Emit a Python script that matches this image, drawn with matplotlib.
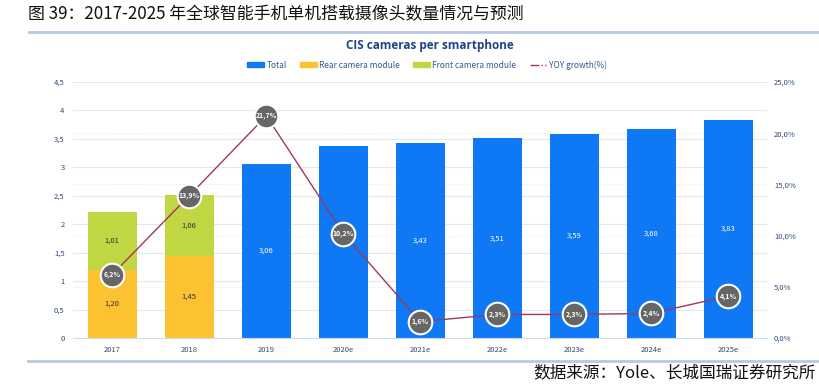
import numpy as np
import matplotlib
matplotlib.use('Agg')
import matplotlib.pyplot as plt
from matplotlib.patches import Patch
from matplotlib.lines import Line2D

plt.rcParams['font.family'] = ['Noto Sans CJK SC', 'DejaVu Sans']

years = ['2017', '2018', '2019', '2020e', '2021e', '2022e', '2023e', '2024e', '2025e']
rear = [1.20, 1.45]
front = [1.01, 1.06]
total = [3.06, 3.38, 3.43, 3.51, 3.59, 3.68, 3.83]
yoy = [6.2, 13.9, 21.7, 10.2, 1.6, 2.3, 2.3, 2.4, 4.1]
left_ticks = [0, 0.5, 1, 1.5, 2, 2.5, 3, 3.5, 4, 4.5]
right_ticks = [0, 5, 10, 15, 20, 25]

c_blue = '#0f78f5'
c_rear = '#fcc232'
c_front = '#c0d643'
c_line = '#a0375c'
c_mark = '#666666'
c_tick = '#2f4a78'


def comma(v, fmt):
    return (fmt % v).replace('.', ',')


fig = plt.figure(figsize=(8.2, 3.84), dpi=100)
W, H = 820.0, 384.0

# header / footer
fig.text(28 / W, 1 - 14 / H, '图 39：2017-2025 年全球智能手机单机搭载摄像头数量情况与预测',
         fontsize=12.2, va='center', ha='left', color='#111111')
fig.add_artist(Line2D([29 / W, 1], [1 - 32 / H] * 2, color='#b5c9e2', lw=2))
fig.add_artist(Line2D([28 / W, 1], [1 - 361 / H] * 2, color='#b5c9e2', lw=2))
fig.text(816 / W, 1 - 373 / H, '数据来源：Yole、长城国瑞证券研究所', fontsize=12,
         style='italic', va='center', ha='right', color='#111111')

fig.text(430 / W, 1 - 45 / H, 'CIS cameras per smartphone', fontsize=8.5,
         fontweight='bold', color='#1f4585', va='center', ha='center',
         family=['Open Sans', 'DejaVu Sans'])

ax = fig.add_axes([73 / W, 46 / H, 694 / W, 256 / H])
x = np.arange(len(years))
bw = 0.64

# right-axis grid lines (5% steps) drawn behind the bars
for v in right_ticks[1:-1]:
    ax.axhline(v * 4.5 / 25, color='#e4e8ee', lw=0.7, ls=':', zorder=0)

ax.bar(x[:2], rear, width=bw, color=c_rear, zorder=2)
ax.bar(x[:2], front, width=bw, bottom=rear, color=c_front, zorder=2)
ax.bar(x[2:], total, width=bw, color=c_blue, zorder=2)

for i in range(2):
    ax.text(x[i], rear[i] / 2, comma(rear[i], '%.2f'), ha='center', va='center',
            fontsize=5.5, color='#333333', zorder=3)
    ax.text(x[i], rear[i] + front[i] / 2, comma(front[i], '%.2f'), ha='center',
            va='center', fontsize=5.5, color='#333333', zorder=3)
for i, v in enumerate(total):
    ax.text(x[i + 2], v / 2, comma(v, '%.2f'), ha='center', va='center',
            fontsize=5.5, color='white', zorder=3)

ax.set_xlim(-0.51, 8.5)
ax.set_ylim(0, 4.5)
ax.set_yticks(left_ticks)
ax.set_yticklabels([comma(v, '%g') for v in left_ticks])
ax.set_xticks(x)
ax.set_xticklabels(years)
ax.tick_params(axis='both', length=0, labelsize=5.5, labelcolor=c_tick)
ax.tick_params(axis='y', pad=6)
ax.tick_params(axis='x', pad=6)
for s in ['top', 'right', 'left']:
    ax.spines[s].set_visible(False)
ax.spines['bottom'].set_color('#cfdcf0')
ax.grid(axis='y', color='#e4e8ee', lw=0.8, zorder=0)
ax.set_axisbelow(True)

ax2 = ax.twinx()
ax2.set_ylim(0, 25)
ax2.set_yticks(right_ticks)
ax2.set_yticklabels([comma(v, '%.1f') + '%' for v in right_ticks])
ax2.tick_params(axis='y', length=0, labelsize=5.5, labelcolor=c_tick, pad=5)
for s in ['top', 'right', 'left', 'bottom']:
    ax2.spines[s].set_visible(False)

ax2.plot(x, yoy, color=c_line, lw=1, zorder=4)
ax2.plot(x, yoy, 'o', ms=17, mfc=c_mark, mec='white', mew=1.5, zorder=5)
for xi, v in zip(x, yoy):
    ax2.text(xi, v, comma(v, '%.1f') + '%', ha='center', va='center', fontsize=5,
             color='white', fontweight='bold', zorder=6)

handles = [Patch(color=c_blue), Patch(color=c_rear), Patch(color=c_front),
           Line2D([0], [0], color=c_line, lw=1, ls='-.')]
labels = ['Total', 'Rear camera module', 'Front camera module', 'YOY growth(%)']
fig.legend(handles, labels, loc='center', bbox_to_anchor=(427 / W, 1 - 65 / H),
           ncol=4, frameon=False, fontsize=6, labelcolor='#2f5a90',
           handlelength=2.0, handleheight=0.5, columnspacing=1.6, handletextpad=0.3)

fig.savefig('out.png', dpi=100)
